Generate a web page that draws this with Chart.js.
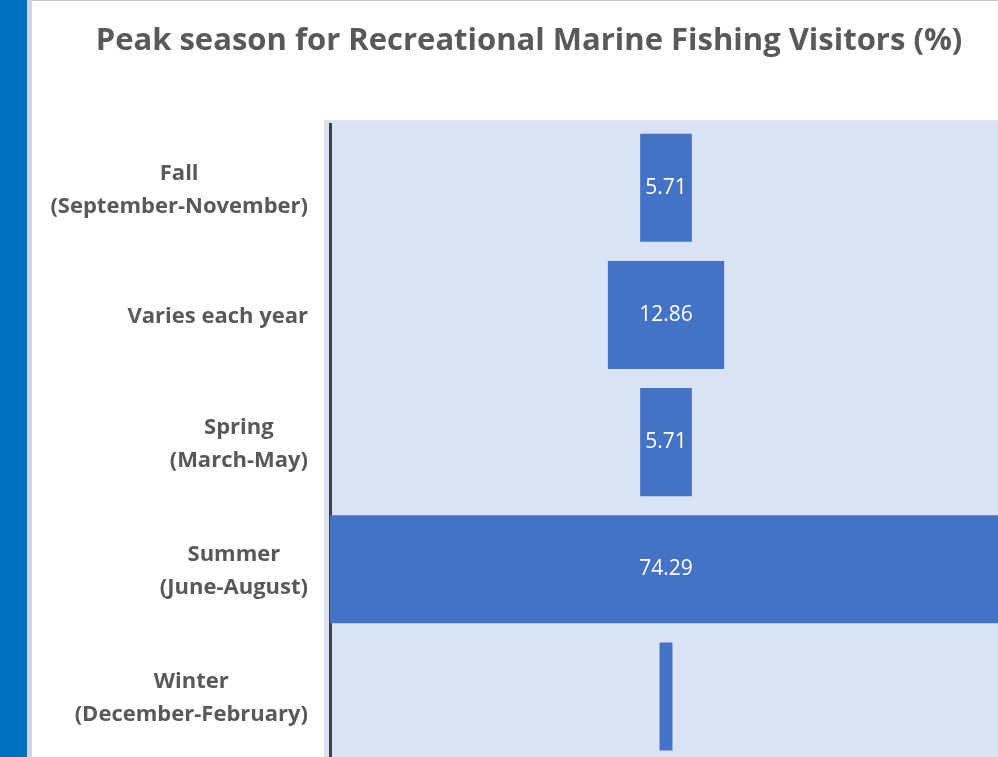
<!DOCTYPE html>
<html>
<head>
<meta charset="utf-8">
<script src="https://cdn.jsdelivr.net/npm/chart.js@4"></script>
<style>
  html, body { margin: 0; padding: 0; background: #fff; overflow: hidden; width: 998px; height: 757px; }
  #strip { position: absolute; left: 0; top: 0; width: 27px; height: 757px; background: #0070c0; }
  #strip2 { position: absolute; left: 27px; top: 0; width: 5px; height: 757px; background: #c9d7ea; }
  #topline { position: absolute; left: 32px; top: 0; width: 966px; height: 1px; background: #c8c8c8; }
  #wrap { position: absolute; left: 0; top: 0; width: 1058px; height: 760px; }
</style>
</head>
<body>
<div id="strip"></div>
<div id="strip2"></div>
<div id="topline"></div>
<div id="wrap"><canvas id="chart"></canvas></div>
<script>
let titleText = "Peak season for Recreational Marine Fishing Visitors (%)";
let seasons = [
  ["Fall", "(September-November)"],
  ["Varies each year"],
  ["Spring", "(March-May)"],
  ["Summer", "(June-August)"],
  ["Winter", "(December-February)"]
];
let percents = [5.71, 12.86, 5.71, 74.29, 1.43];

let half = Math.max(...percents) / 2;
let fontName = "'Open Sans'";

/* plot background */
let bgPlugin = {
  id: "plotBg",
  beforeDraw(chart){
    let a = chart.chartArea;
    let ctx = chart.ctx;
    ctx.save();
    ctx.fillStyle = "#dae3f3";
    ctx.fillRect(a.left - 6, a.top - 4, chart.width - a.left + 6, chart.height - a.top + 4);
    ctx.restore();
  }
};

/* category labels: block right aligned, lines centred */
let labelPlugin = {
  id: "catLabels",
  afterDraw(chart){
    let ctx = chart.ctx;
    let y = chart.scales.y;
    ctx.save();
    ctx.font = "bold 22px " + fontName;
    ctx.fillStyle = "#595959";
    ctx.textAlign = "center";
    ctx.textBaseline = "middle";
    seasons.forEach((lines, i) => {
      let w = Math.max(...lines.map(l => ctx.measureText(l).width));
      let cx = 308 - w / 2;
      let cy = y.getPixelForValue(i) + 2;
      lines.forEach((l, j) => {
        ctx.fillText(l, cx, cy + (j - (lines.length - 1) / 2) * 33);
      });
    });
    ctx.restore();
  }
};

/* value labels inside the bars */
let valuePlugin = {
  id: "valLabels",
  afterDatasetsDraw(chart){
    let ctx = chart.ctx;
    let meta = chart.getDatasetMeta(0);
    ctx.save();
    ctx.font = "21px " + fontName;
    ctx.fillStyle = "#ffffff";
    ctx.textAlign = "center";
    ctx.textBaseline = "middle";
    meta.data.forEach((bar, i) => {
      let txt = percents[i].toFixed(2);
      let w = Math.abs(bar.x - bar.base);
      if(w < ctx.measureText(txt).width + 4) return;
      ctx.fillText(txt, (bar.x + bar.base) / 2, bar.y);
    });
    ctx.restore();
  }
};

let chart = new Chart(document.getElementById("chart"), {
  type: "bar",
  data: {
    labels: seasons,
    datasets: [{
      data: percents.map(v => [-v / 2, v / 2]),
      backgroundColor: "#4472c4",
      borderSkipped: false,
      barPercentage: 0.85,
      categoryPercentage: 1
    }]
  },
  options: {
    indexAxis: "y",
    responsive: true,
    maintainAspectRatio: false,
    animation: false,
    layout: { padding: { left: 56, right: 56, top: 0, bottom: 0 } },
    plugins: {
      legend: { display: false },
      tooltip: { enabled: false },
      title: {
        display: true,
        text: titleText,
        color: "#595959",
        font: { family: "Open Sans", size: 31, weight: "bold" },
        padding: { top: 23, bottom: 64 }
      }
    },
    scales: {
      x: {
        min: -half,
        max: half,
        display: false,
        grid: { display: false }
      },
      y: {
        grid: { display: false, drawTicks: false },
        border: { display: true, color: "#404040", width: 3 },
        ticks: { display: false },
        afterFit(s){ s.width = 274; }
      }
    }
  },
  plugins: [bgPlugin, labelPlugin, valuePlugin]
});
</script>
</body>
</html>
